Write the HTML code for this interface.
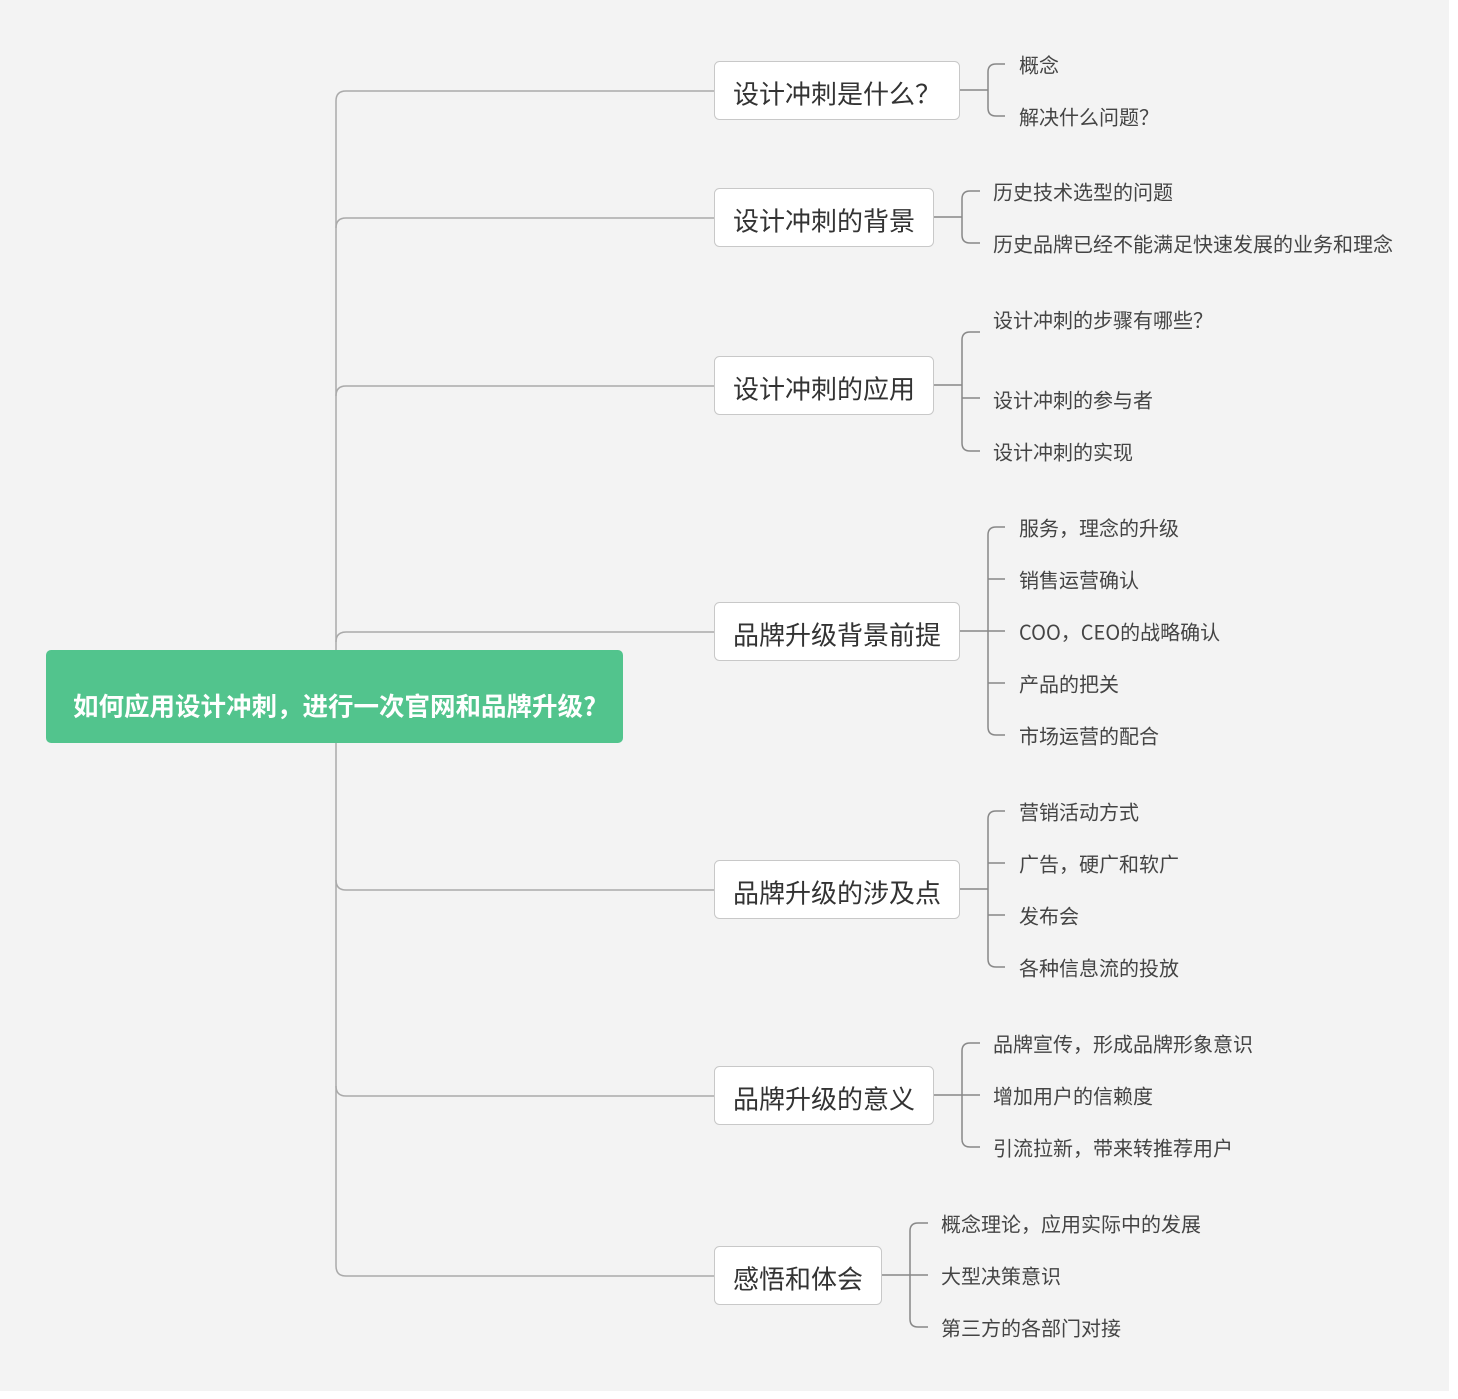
<!DOCTYPE html>
<html><head><meta charset="utf-8"><style>
html,body{margin:0;padding:0;background:#fff;}
svg{display:block;}
text{font-family:"Noto Sans CJK SC","Liberation Sans",sans-serif;}
</style></head><body>
<svg width="1458" height="1399" viewBox="0 0 1458 1399" xmlns="http://www.w3.org/2000/svg">
<rect x="0" y="0" width="1449" height="1391" fill="#f3f3f3"/>
<g fill="none" stroke="#aaaaaa" stroke-width="1.5">
<path d="M336 101 Q336 91 346 91 H714"/>
<path d="M336 228 Q336 218 346 218 H714"/>
<path d="M336 396 Q336 386 346 386 H714"/>
<path d="M336 642 Q336 632 346 632 H714"/>
<path d="M336 880 Q336 890 346 890 H714"/>
<path d="M336 1086 Q336 1096 346 1096 H714"/>
<path d="M336 1266 Q336 1276 346 1276 H714"/>
<path d="M336 101 V1266"/>
</g>
<g fill="none" stroke="#888888" stroke-width="1.5">
<path d="M959 90 H988"/>
<path d="M1005 64 H996 Q988 64 988 72 V108 Q988 116 996 116 H1005"/>
<path d="M933 217 H962"/>
<path d="M980 191 H970 Q962 191 962 199 V235 Q962 243 970 243 H980"/>
<path d="M933 385 H962"/>
<path d="M980 332 H970 Q962 332 962 340 V443 Q962 451 970 451 H980"/>
<path d="M962 398 H980"/>
<path d="M959 631 H1005"/>
<path d="M1005 527 H996 Q988 527 988 535 V727 Q988 735 996 735 H1005"/>
<path d="M988 579 H1005 M988 683 H1005"/>
<path d="M959 889 H988"/>
<path d="M1005 811 H996 Q988 811 988 819 V959 Q988 967 996 967 H1005"/>
<path d="M988 863 H1005 M988 915 H1005"/>
<path d="M933 1095 H980"/>
<path d="M980 1043 H970 Q962 1043 962 1051 V1139 Q962 1147 970 1147 H980"/>
<path d="M881 1275 H928"/>
<path d="M928 1223 H918 Q910 1223 910 1231 V1319 Q910 1327 918 1327 H928"/>
</g>
<rect x="46" y="650" width="577" height="93" rx="5" fill="#52c48d"/>
<text x="334.5" y="705" fill="#fff" font-size="25.5" font-weight="bold" text-anchor="middle" dominant-baseline="central">如何应用设计冲刺，进行一次官网和品牌升级?</text>
<g fill="#fff" stroke="#c8c8c8" stroke-width="1">
<rect x="714.5" y="61.5" width="245" height="58" rx="5"/>
<rect x="714.5" y="188.5" width="219" height="58" rx="5"/>
<rect x="714.5" y="356.5" width="219" height="58" rx="5"/>
<rect x="714.5" y="602.5" width="245" height="58" rx="5"/>
<rect x="714.5" y="860.5" width="245" height="58" rx="5"/>
<rect x="714.5" y="1066.5" width="219" height="58" rx="5"/>
<rect x="714.5" y="1246.5" width="167" height="58" rx="5"/>
</g>
<g fill="#333" font-size="26" dominant-baseline="central">
<text x="733" y="93">设计冲刺是什么？</text>
<text x="733" y="220">设计冲刺的背景</text>
<text x="733" y="388">设计冲刺的应用</text>
<text x="733" y="634">品牌升级背景前提</text>
<text x="733" y="892">品牌升级的涉及点</text>
<text x="733" y="1098">品牌升级的意义</text>
<text x="733" y="1278">感悟和体会</text>
</g>
<g fill="#444" font-size="20" dominant-baseline="central">
<text x="1019" y="64">概念</text>
<text x="1019" y="116">解决什么问题？</text>
<text x="993" y="191">历史技术选型的问题</text>
<text x="993" y="243">历史品牌已经不能满足快速发展的业务和理念</text>
<text x="993" y="319">设计冲刺的步骤有哪些？</text>
<text x="993" y="399">设计冲刺的参与者</text>
<text x="993" y="451">设计冲刺的实现</text>
<text x="1019" y="527">服务，理念的升级</text>
<text x="1019" y="579">销售运营确认</text>
<text x="1019" y="631">COO，CEO的战略确认</text>
<text x="1019" y="683">产品的把关</text>
<text x="1019" y="735">市场运营的配合</text>
<text x="1019" y="811">营销活动方式</text>
<text x="1019" y="863">广告，硬广和软广</text>
<text x="1019" y="915">发布会</text>
<text x="1019" y="967">各种信息流的投放</text>
<text x="993" y="1043">品牌宣传，形成品牌形象意识</text>
<text x="993" y="1095">增加用户的信赖度</text>
<text x="993" y="1147">引流拉新，带来转推荐用户</text>
<text x="941" y="1223">概念理论，应用实际中的发展</text>
<text x="941" y="1275">大型决策意识</text>
<text x="941" y="1327">第三方的各部门对接</text>
</g>
</svg>
</body></html>
